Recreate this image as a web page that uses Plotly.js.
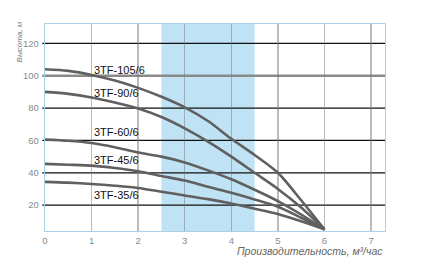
<!DOCTYPE html>
<html>
<head>
<meta charset="utf-8">
<script src="https://cdn.plot.ly/plotly-3.0.1.min.js"></script>
<style>html,body{margin:0;padding:0;background:#fff;}#chart{width:430px;height:278px;}</style>
</head>
<body>
<div id="chart"></div>
<script>
// Flow rate, m³/h
const flow = [0, 0.5, 1, 1.5, 2, 2.5, 3, 3.5, 4, 4.5, 5, 5.5, 6];
// Head, m
const head105 = [104, 103, 100.5, 97, 92.5, 87, 80.5, 72, 61, 51, 40, 23, 5];
const head90  = [90, 88.8, 86.6, 83.5, 79.7, 74.5, 67.5, 59.3, 50, 40, 30, 18.5, 5];
const head60  = [60.5, 59.8, 58.4, 55.8, 52.5, 50, 46.4, 41.5, 36, 29.5, 22.5, 14.2, 5];
const head45  = [45.5, 45, 44.4, 43, 41, 38, 35.2, 31.3, 27.6, 23.5, 19, 12.2, 5];
const head35  = [34.4, 33.9, 33.1, 32, 30.6, 28.3, 26, 23.7, 21, 17.8, 14.5, 10, 5];
const curveNames = ['3TF-105/6', '3TF-90/6', '3TF-60/6', '3TF-45/6', '3TF-35/6'];
const labelHead = [103.5, 89.5, 65, 47.7, 26.3];
const labelFlow = 1.0;
const bandRange = [2.5, 4.5];
const headTicks = [20, 40, 60, 80, 100, 120];
const flowTicks = [0, 1, 2, 3, 4, 5, 6, 7];

const series = [head105, head90, head60, head45, head35];
const FONT = '"Liberation Sans Narrow", "Arial Narrow", "Liberation Sans", Arial, sans-serif';

const traces = series.map((h, i) => ({
  x: flow, y: h, type: 'scatter', mode: 'lines', name: curveNames[i],
  line: {color: '#606060', width: 2.6, shape: 'spline', smoothing: 0.8},
  hoverinfo: 'skip'
}));

const shapes = [];
shapes.push({type: 'rect', xref: 'x', yref: 'paper', x0: bandRange[0], x1: bandRange[1], y0: 0, y1: 1,
  fillcolor: '#bfe2f5', line: {width: 0}, layer: 'below'});
headTicks.forEach(v => {
  const main = v === 100;
  shapes.push({type: 'line', xref: 'paper', yref: 'y', x0: -0.008, x1: 1, y0: v, y1: v,
    line: {color: main ? '#8a8a8a' : '#111111', width: main ? 2.6 : 1.3}, layer: 'between'});
});

const annotations = curveNames.map((n, i) => ({
  x: labelFlow, y: labelHead[i], xref: 'x', yref: 'y', text: n, showarrow: false,
  xanchor: 'left', yanchor: 'middle', font: {family: FONT, size: 11, color: '#111'}
}));
annotations.push({
  xref: 'paper', yref: 'paper', x: -0.074, y: 0.915, text: '<i>Высота, м</i>', textangle: -90,
  showarrow: false, xanchor: 'center', yanchor: 'middle', font: {family: FONT, size: 8, color: '#777'}
});
annotations.push({
  xref: 'paper', yref: 'paper', x: 1.0, y: -0.097, text: '<i>Производительность, м³/час</i>',
  showarrow: false, xanchor: 'right', yanchor: 'middle', font: {family: FONT, size: 10.5, color: '#666'}
});

const layout = {
  width: 430, height: 278,
  margin: {l: 45, r: 45, t: 24, b: 47, pad: 0},
  paper_bgcolor: '#fff', plot_bgcolor: 'rgba(0,0,0,0)',
  showlegend: false,
  font: {family: FONT},
  xaxis: {
    range: [0, 7.3], tickvals: flowTicks, ticks: '', showgrid: true,
    gridcolor: 'rgba(120,120,120,0.5)', gridwidth: 1.5, zeroline: false,
    showline: true, linecolor: '#a9d2e8', linewidth: 1.2, mirror: true,
    tickfont: {family: FONT, size: 9.5, color: '#8a8a8a'}
  },
  yaxis: {
    range: [4, 132], tickvals: headTicks, ticks: '', showgrid: false, zeroline: false,
    showline: true, linecolor: '#a9d2e8', linewidth: 1.2, mirror: true,
    tickfont: {family: FONT, size: 9.5, color: '#8a8a8a'}, ticklabelstandoff: 3
  },
  shapes: shapes,
  annotations: annotations
};

Plotly.newPlot('chart', traces, layout, {staticPlot: true, displayModeBar: false});
</script>
</body>
</html>
